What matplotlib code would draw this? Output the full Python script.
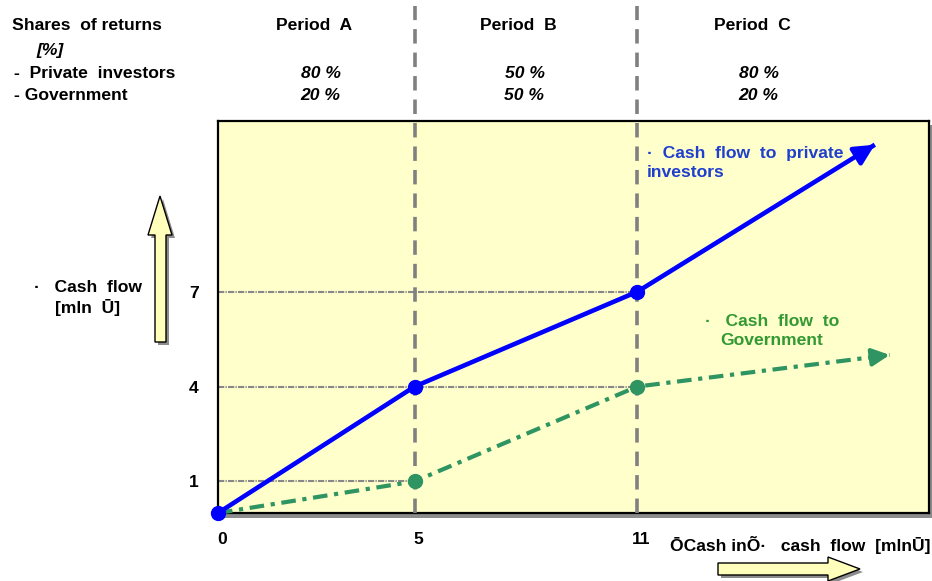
import numpy as np
import matplotlib
matplotlib.use("Agg")
import matplotlib.pyplot as plt
from matplotlib.transforms import Affine2D, ScaledTranslation
from matplotlib.patches import Rectangle, Polygon

# cumulative cash in (x) against cumulative cash flow (y), mln
x_points = [0, 5, 11]
private_cf = [0, 4, 7]
govt_cf = [0, 1, 4]
private_end = (17.4, 11.65)
govt_end = (17.8, 5.0)

periods = ["Period  A", "Period  B", "Period  C"]
private_share = [80, 50, 80]
govt_share = [20, 50, 20]

W, H = 932, 581
FS = 12.6
plt.rcParams['font.family'] = ['Liberation Sans', 'DejaVu Sans']
plt.rcParams['font.weight'] = 'bold'

fig = plt.figure(figsize=(W / 100, H / 100), dpi=100)
# pixel coordinates, origin top-left
px = Affine2D().scale(1 / W, -1 / H).translate(0, 1) + fig.transFigure

ax = fig.add_axes([218 / W, 1 - 513 / H, (929 - 218) / W, (513 - 121) / H])
ax.set_facecolor('#FFFFCC')
for s in ax.spines.values():
    s.set_linewidth(1.6)
    s.set_color('black')

# box shadow
fig.patches.append(Rectangle((222, 125), 710, 393, transform=px,
                             facecolor='#8c8c8c', edgecolor='none', zorder=-1))

# schematic x axis: stretched between the period boundaries
xk = [0, 5, 11, 30]
uk = [0, 196, 418, 418 + 19 * 37]
ax.set_xscale('function', functions=(lambda x: np.interp(x, xk, uk),
                                     lambda u: np.interp(u, uk, xk)))
ax.set_xlim(0, 18.86)
ax.set_ylim(0, 12.4)

ax.set_xticks(x_points)
ax.set_xticklabels([str(v) for v in x_points])
ax.set_yticks([1, 4, 7])
ax.set_yticklabels(['1', '4', '7'])
ax.tick_params(length=0, labelsize=FS, pad=14)
shift = ScaledTranslation(4 / 100, 0, fig.dpi_scale_trans)
for lab in ax.get_xticklabels():
    lab.set_fontweight('bold')
    lab.set_transform(lab.get_transform() + shift)
for lab in ax.get_yticklabels():
    lab.set_fontweight('bold')

# level guide lines
grid_kw = dict(color='#888888', lw=1.5, dashes=(3, 0.6, 0.6, 0.6), zorder=2)
ax.plot([0, x_points[2]], [private_cf[2]] * 2, **grid_kw)
ax.plot([0, x_points[2]], [private_cf[1]] * 2, **grid_kw)
ax.plot([0, x_points[1]], [govt_cf[1]] * 2, **grid_kw)

# period boundaries, running up into the header
for xb in x_points[1:]:
    ax.axvline(xb, ymin=0, ymax=(513 - 6) / 392, color='#808080', lw=2.6,
               dashes=(4, 2.5), clip_on=False, zorder=3)

blue = '#0000FF'
green = '#2E9461'

# private investors
ax.plot(x_points + [private_end[0]], private_cf + [private_end[1]],
        color=blue, lw=3.3, solid_capstyle='butt', zorder=5, clip_on=False)
ax.plot(x_points, private_cf, 'o', color=blue, ms=10, zorder=6, clip_on=False)
ax.annotate('', xy=private_end,
            xytext=(private_end[0] - 0.3, private_end[1] - 0.3 * (private_end[1] - private_cf[2]) / (private_end[0] - x_points[2])),
            arrowprops=dict(arrowstyle='-|>', color=blue, lw=3.3, mutation_scale=30,
                            shrinkA=0, shrinkB=0), zorder=6)

# government
ax.plot(x_points + [govt_end[0]], govt_cf + [govt_end[1]],
        color=green, lw=3.0, dashes=(3.5, 1.6, 1, 1.6), zorder=4, clip_on=False)
ax.plot(x_points[1:], govt_cf[1:], 'o', color=green, ms=10, zorder=4)
ax.annotate('', xy=govt_end,
            xytext=(govt_end[0] - 0.3, govt_end[1] - 0.3 * (govt_end[1] - govt_cf[2]) / (govt_end[0] - x_points[2])),
            arrowprops=dict(arrowstyle='-|>', color=green, lw=3.0, mutation_scale=26,
                            shrinkA=0, shrinkB=0), zorder=5)

# series labels
fig.text(647, 163, '·  Cash  flow  to  private\ninvestors', transform=px,
         color='#1F3FCC', fontsize=FS, fontweight='bold', ha='left', va='center',
         linespacing=1.3)
fig.text(772, 331, '·   Cash  flow  to\nGovernment', transform=px,
         color='#339933', fontsize=FS, fontweight='bold', ha='center', va='center',
         multialignment='center', linespacing=1.3)

# header table
fig.text(12, 25, 'Shares  of returns', transform=px, fontsize=FS, va='center')
fig.text(36, 50, '[%]', transform=px, fontsize=FS, va='center', style='italic')
fig.text(14, 73, '-  Private  investors', transform=px, fontsize=FS, va='center')
fig.text(14, 96, '- Government', transform=px, fontsize=FS, va='center')
col_x = [314, 518, 752]
for cx, name, ps, gs in zip(col_x, periods, private_share, govt_share):
    fig.text(cx, 25, name, transform=px, fontsize=FS, ha='center', va='center')
    fig.text(cx + 7, 73, f'{ps} %', transform=px, fontsize=FS, ha='center',
             va='center', style='italic')
    fig.text(cx + 6, 96, f'{gs} %', transform=px, fontsize=FS, ha='center',
             va='center', style='italic')

# axis captions
fig.text(88, 298, '·   Cash  flow\n[mln  Ū]', transform=px, fontsize=FS,
         ha='center', va='center', multialignment='center', linespacing=1.3)
fig.text(930, 545, 'ŌCash inÕ·   cash  flow  [mlnŪ]', transform=px, fontsize=FS,
         ha='right', va='center')


def block_arrow(pts, shadow=3):
    sh = [(x + shadow, y + shadow) for x, y in pts]
    fig.patches.append(Polygon(sh, closed=True, transform=px, facecolor='#8c8c8c',
                               edgecolor='none', zorder=1))
    fig.patches.append(Polygon(pts, closed=True, transform=px, facecolor='#FFFFBB',
                               edgecolor='black', lw=1.0, zorder=2))


# up arrow beside the y caption
block_arrow([(155, 342), (155, 235), (148, 235), (160, 196), (172, 235),
             (166, 235), (166, 342)])
# right arrow under the x caption
block_arrow([(718, 563), (828, 563), (828, 557), (860, 569), (828, 581),
             (828, 575), (718, 575)])

fig.savefig('out.png', dpi=100)
